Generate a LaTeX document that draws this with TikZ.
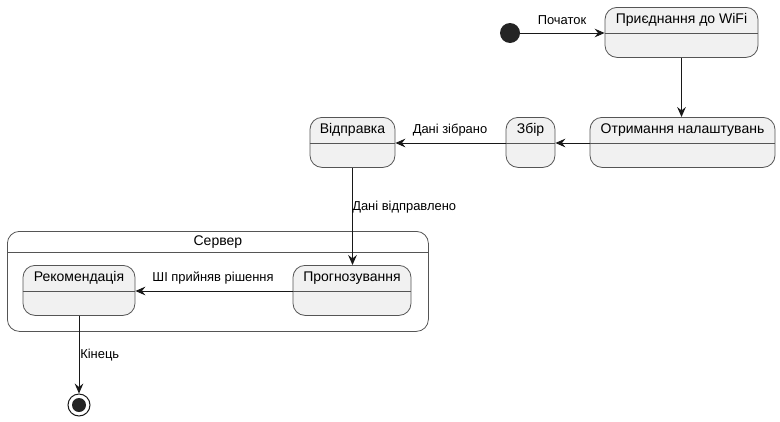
\documentclass[tikz,border=0pt]{standalone}
\usepackage{fontspec}
\setmainfont{Liberation Sans}
\usetikzlibrary{arrows.meta}
\definecolor{stfill}{HTML}{F1F1F1}
\definecolor{stline}{HTML}{555555}
\definecolor{ink}{HTML}{181818}
\tikzset{
  statebox/.style={draw=stline, line width=0.6pt, fill=stfill, rounded corners=9pt, minimum height=37.5pt, inner sep=0pt},
  clusterbox/.style={draw=stline, line width=0.6pt, fill=white, rounded corners=9pt, inner sep=0pt},
  divider/.style={draw=stline, line width=0.6pt},
  sttext/.style={font=\fontsize{10.5pt}{12pt}\selectfont, text=black, inner sep=0pt},
  lbl/.style={font=\fontsize{9.7pt}{11pt}\selectfont, text=black, inner sep=0pt},
  arr/.style={draw=ink, line width=0.7pt, -{Stealth[length=7.5pt, width=6.5pt, inset=2.6pt]}},
}
\newcommand\stbox[5]{%
  \node[statebox, minimum width=#4*0.75pt, anchor=north] (#1) at (#2,#3) {};
  \draw[divider] ([yshift=-19.5pt]#1.north west) -- ([yshift=-19.5pt]#1.north east);
  \node[sttext] (#1-t) at ([yshift=-9.9pt]#1.north) {#5};}
\begin{document}
\begin{tikzpicture}[x=0.75pt, y=-0.75pt]
\useasboundingbox (0,0) rectangle (780,421);
% cluster
\node[clusterbox, minimum width=421*0.75pt, minimum height=100*0.75pt, anchor=north west] (srv) at (7,231) {};
\draw[divider] ([yshift=-15.75pt]srv.north west) -- ([yshift=-15.75pt]srv.north east);
\node[sttext] (srv-t) at ([yshift=-8.25pt]srv.north) {Сервер};
% start
\node[circle, fill=ink!95!white, minimum size=15pt, inner sep=0pt] (start) at (510,33) {};
% states
\stbox{wifi}{681.5}{7}{153}{Приєднання до WiFi}
\stbox{otr}{682.5}{117}{185}{Отримання налаштувань}
\stbox{zbir}{530.5}{117}{49}{Збір}
\stbox{vid}{352.5}{117}{85}{Відправка}
\stbox{prog}{352}{265}{118}{Прогнозування}
\stbox{rek}{79}{265}{112}{Рекомендація}
% end
\node[circle, draw=ink, line width=0.75pt, fill=white, minimum size=16.5pt, inner sep=0pt] (fin) at (79,405) {};
\node[circle, fill=ink!95!white, minimum size=10.5pt, inner sep=0pt] (fin-in) at (fin.center) {};
% connectors
\draw[arr] (start.east) -- (start.east -| wifi.west);
\node[lbl] (l1) at (562,20) {Початок};
\draw[arr] (wifi.south) -- (wifi.south |- otr.north);
\draw[arr] (otr.west |- 0,143) -- (zbir.east |- 0,143);
\draw[arr] (zbir.west |- 0,143) -- (vid.east |- 0,143);
\node[lbl] (l2) at (450,130) {Дані зібрано};
\draw[arr] (vid.south) -- (vid.south |- prog.north);
\node[lbl, anchor=west] (l3) at (352,207) {Дані відправлено};
\draw[arr] (prog.west |- 0,291) -- (rek.east |- 0,291);
\node[lbl] (l4) at (213,278) {ШІ прийняв рішення};
\draw[arr] (rek.south) -- (fin.north);
\node[lbl, anchor=west] (l5) at (80,355) {Кінець};
\end{tikzpicture}
\end{document}
